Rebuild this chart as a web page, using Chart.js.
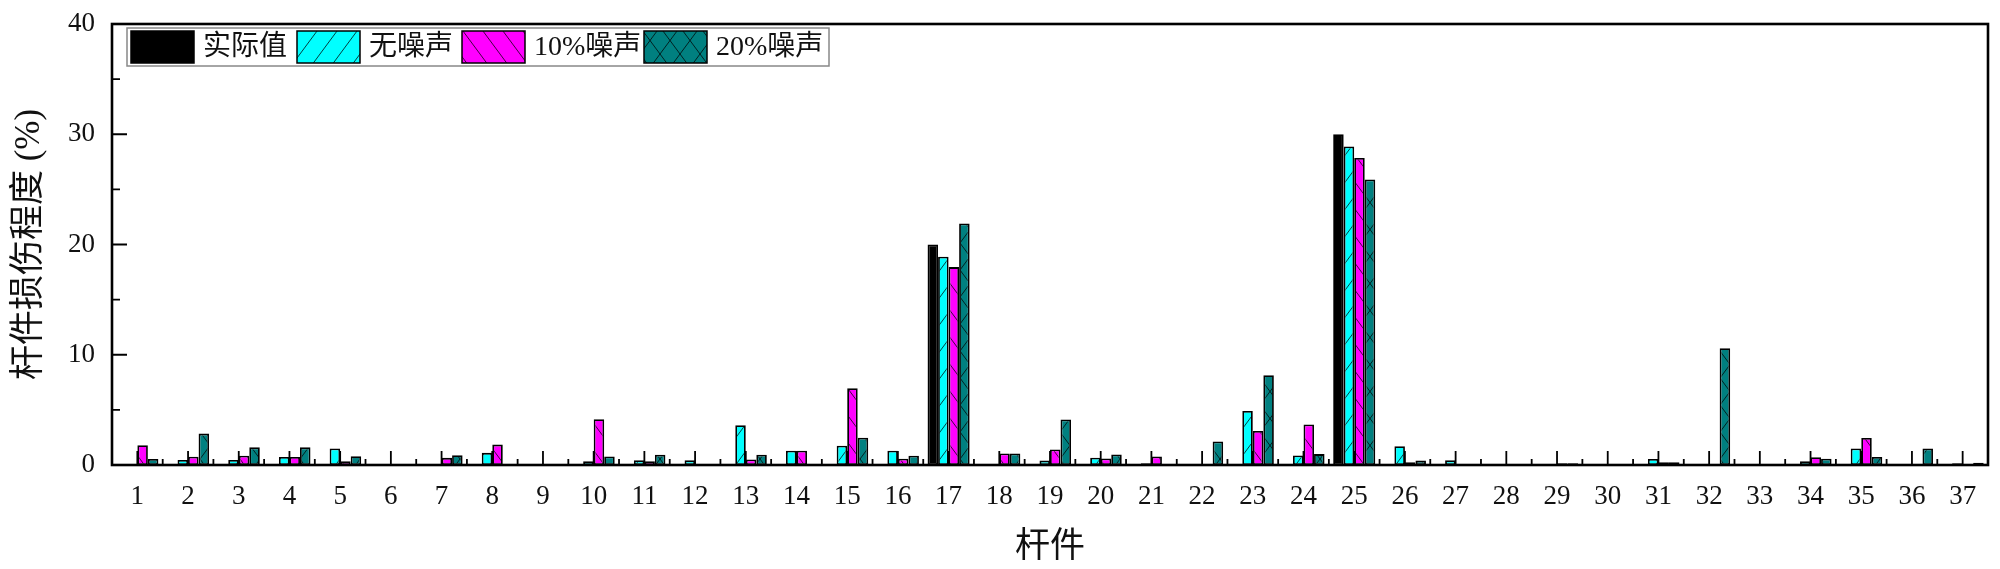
<!DOCTYPE html>
<html>
<head>
<meta charset="utf-8">
<script src="https://cdn.jsdelivr.net/npm/chart.js@4/dist/chart.umd.min.js"></script>
<style>
  html, body { margin: 0; padding: 0; background: #fff; }
  canvas { display: block; }
</style>
</head>
<body>
<canvas id="grafico" width="2000" height="569"></canvas>
<script>
// dados ------------------------------------
const categorias = [];
for (let i = 1; i <= 37; i++) categorias.push(String(i));

const nomesSeries = ["实际值", "无噪声", "10%噪声", "20%噪声"];

const valorReal = [0, 0, 0, 0, 0, 0, 0, 0, 0, 0, 0, 0, 0, 0, 0, 0, 20, 0, 0, 0,
    0, 0, 0, 0, 30, 0, 0, 0, 0, 0, 0, 0, 0, 0, 0, 0, 0];
const semRuido = [0.1, 0.45, 0.45, 0.72, 1.5, 0, 0.1, 1.1, 0, 0.35, 0.42, 0.42, 3.6, 1.3, 1.75, 1.3, 18.9, 0.05, 0.4, 0.66,
    0.15, 0.1, 4.9, 0.87, 28.9, 1.7, 0.42, 0, 0.05, 0, 0.54, 0, 0, 0.35, 1.5, 0.05, 0.15];
const ruido10 = [1.8, 0.75, 0.85, 0.72, 0.35, 0, 0.65, 1.85, 0, 4.15, 0.35, 0, 0.5, 1.3, 6.97, 0.57, 17.95, 1.05, 1.4, 0.6,
    0.78, 0.05, 3.08, 3.68, 27.85, 0.25, 0, 0, 0.15, 0, 0.25, 0, 0, 0.7, 2.45, 0, 0.1];
const ruido20 = [0.55, 2.85, 1.6, 1.6, 0.8, 0, 0.88, 0.1, 0, 0.78, 0.93, 0, 0.93, 0.1, 2.47, 0.85, 21.9, 1.05, 4.13, 0.96,
    0.1, 2.14, 8.15, 0.99, 25.9, 0.4, 0, 0, 0.15, 0, 0.25, 10.6, 0, 0.57, 0.72, 1.5, 0.2];

const yTicks = [0, 10, 20, 30, 40];

// estilos ----------------------------------
const FONTE = "'Liberation Serif', 'Noto Sans CJK SC', serif";
const CORES = ["#000000", "#00FFFF", "#FF00FF", "#008080"];

function criaHachura(cor, tipo) {
    const w = 20, h = 27;
    const c = document.createElement("canvas");
    c.width = w; c.height = h;
    const g = c.getContext("2d");
    g.fillStyle = cor;
    g.fillRect(0, 0, w, h);
    g.strokeStyle = "rgba(0,0,0,0.75)";
    g.lineWidth = 1;
    g.beginPath();
    for (let k = -1; k <= 1; k++) {
        if (tipo === "/" || tipo === "x") { g.moveTo(k * w, h); g.lineTo(k * w + w, 0); }
        if (tipo === "\\" || tipo === "x") { g.moveTo(k * w, 0); g.lineTo(k * w + w, h); }
    }
    g.stroke();
    return g.createPattern(c, "repeat");
}

const padroes = [
    CORES[0],
    criaHachura(CORES[1], "/"),
    criaHachura(CORES[2], "\\"),
    criaHachura(CORES[3], "x"),
];

const serie = (i, dados) => ({
    label: nomesSeries[i],
    data: dados,
    backgroundColor: padroes[i],
    borderColor: "#000",
    borderWidth: 1.8,
    borderSkipped: false,
    categoryPercentage: 0.83,
    barPercentage: 1.0,
});

// moldura, ticks para dentro e legenda
const molduraPlugin = {
    id: "moldura",
    afterDatasetsDraw(chart) {
        const ctx = chart.ctx;
        const a = chart.chartArea;
        const xs = chart.scales.x, ys = chart.scales.y;
        ctx.save();
        ctx.strokeStyle = "#000";
        ctx.lineWidth = 1.8;
        ctx.beginPath();
        // y ticks
        for (let v = 0; v <= 40; v += 5) {
            const py = ys.getPixelForValue(v);
            const len = v % 10 === 0 ? 15 : 8;
            ctx.moveTo(a.left, py); ctx.lineTo(a.left + len, py);
        }
        // x ticks
        const n = categorias.length;
        for (let i = 0; i < n; i++) {
            const px = xs.getPixelForValue(i);
            ctx.moveTo(px, a.bottom); ctx.lineTo(px, a.bottom - 14);
        }
        const passo = (a.right - a.left) / n;
        for (let i = 1; i < n; i++) {
            const px = a.left + i * passo;
            ctx.moveTo(px, a.bottom); ctx.lineTo(px, a.bottom - 6);
        }
        ctx.stroke();

        ctx.lineWidth = 2.6;
        ctx.strokeRect(a.left, a.top, a.right - a.left, a.bottom - a.top);

        // legenda
        const lx = 127, ly = 28, lw = 702, lh = 38;
        ctx.fillStyle = "#fff";
        ctx.fillRect(lx, ly, lw, lh);
        ctx.strokeStyle = "#888";
        ctx.lineWidth = 1.5;
        ctx.strokeRect(lx, ly, lw, lh);
        const swX = [131, 297, 462, 644];
        ctx.font = "28px " + FONTE;
        ctx.textBaseline = "middle";
        ctx.textAlign = "left";
        nomesSeries.forEach((nome, i) => {
            ctx.fillStyle = padroes[i];
            ctx.fillRect(swX[i], 31, 63, 32);
            ctx.strokeStyle = "#000";
            ctx.lineWidth = 1.5;
            ctx.strokeRect(swX[i], 31, 63, 32);
            ctx.fillStyle = "#111";
            ctx.fillText(nome, swX[i] + 72, 48);
        });
        ctx.restore();
    }
};

const config = {
    type: "bar",
    data: {
        labels: categorias,
        datasets: [
            serie(0, valorReal),
            serie(1, semRuido),
            serie(2, ruido10),
            serie(3, ruido20),
        ]
    },
    options: {
        responsive: false,
        devicePixelRatio: 1,
        animation: false,
        layout: { padding: { left: 0, top: 24, right: 12, bottom: 0 } },
        plugins: {
            legend: { display: false },
            tooltip: { enabled: false },
        },
        scales: {
            x: {
                grid: { display: false, drawTicks: false },
                border: { display: false },
                ticks: {
                    autoSkip: false, maxRotation: 0, padding: 16,
                    font: { family: FONTE, size: 27 }, color: "#111",
                },
                title: {
                    display: true, text: "杆件",
                    font: { family: FONTE, size: 35 }, color: "#111",
                    padding: { top: 0, bottom: 0 },
                },
                afterFit: (s) => { s.height = 104; s.paddingLeft = 0; s.paddingRight = 0; },
            },
            y: {
                min: 0, max: 40,
                afterBuildTicks: (s) => { s.ticks = yTicks.map(v => ({ value: v })); },
                grid: { display: false, drawTicks: false },
                border: { display: false },
                ticks: {
                    padding: 17,
                    font: { family: FONTE, size: 27 }, color: "#111",
                },
                title: {
                    display: true, text: "杆件损伤程度 (%)",
                    font: { family: FONTE, size: 35 }, color: "#111",
                    padding: { top: 9, bottom: 0 },
                },
                afterFit: (s) => { s.width = 112; s.paddingTop = 0; s.paddingBottom = 0; },
            }
        }
    },
    plugins: [molduraPlugin],
};

document.addEventListener("DOMContentLoaded", () => {
    const ctx = document.getElementById("grafico").getContext("2d");
    new Chart(ctx, config);
});
</script>
</body>
</html>
